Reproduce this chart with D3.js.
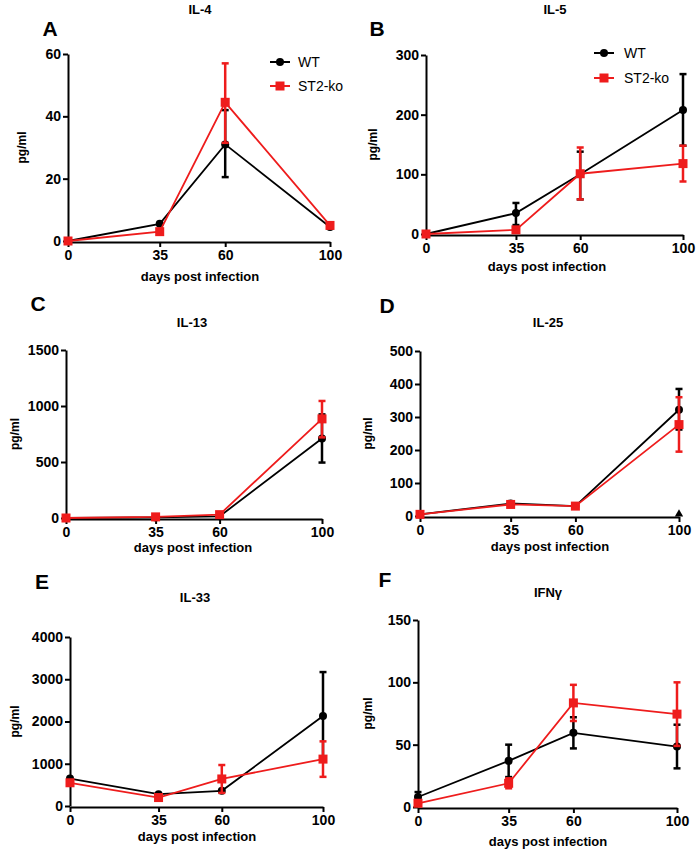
<!DOCTYPE html>
<html><head><meta charset="utf-8">
<script src="https://cdn.jsdelivr.net/npm/d3@7"></script>
<style>
body{margin:0;background:#fff;}
svg text{font-family:"Liberation Sans",Arial,sans-serif;font-weight:bold;}
</style></head>
<body><svg id="c" width="697" height="853"></svg>
<script>
const days = [0, 35, 60, 100];
const seriesNames = ["WT", "ST2-ko"];
const colors = ["#000000", "#ee1c1c"];

// values: [mean, errLow, errHigh]
const il4WT  = [[0,0,0],[5.5,5.5,5.5],[31,20.5,42],[4.5,4.5,4.5]];
const il4KO  = [[0,0,0],[3,3,3],[44.5,31.5,57],[5,5,5]];
const il5WT  = [[0,0,0],[35,15,52],[100,58,138],[208,148,268]];
const il5KO  = [[0,0,0],[7,4,10],[101,58,145],[118,88,148]];
const il13WT = [[0,0,0],[5,5,5],[15,15,15],[710,495,925]];
const il13KO = [[0,0,0],[10,10,10],[30,30,30],[885,720,1045]];
const il25WT = [[5,5,5],[38,38,38],[30,30,30],[322,262,385]];
const il25KO = [[5,5,5],[35,35,35],[30,30,30],[277,195,360]];
const il25Extra = [[100,0]];
const il33WT = [[650,650,650],[280,280,280],[360,360,360],[2130,1100,3170]];
const il33KO = [[550,550,550],[200,200,200],[640,310,970],[1110,690,1530]];
const ifnWT  = [[8,4,12],[37,24,50],[59.5,47,72],[48.5,31,66]];
const ifnKO  = [[3,1,5],[19,15,23],[83.5,69,98],[74.5,49,100]];

const titles = ["IL-4","IL-5","IL-13","IL-25","IL-33","IFNγ"];
const letters = ["A","B","C","D","E","F"];
const yMax = [60,300,1500,500,4000,150];
const yTicks = [[0,20,40,60],[0,100,200,300],[0,500,1000,1500],[0,100,200,300,400,500],[0,1000,2000,3000,4000],[0,50,100,150]];
const panelData = [[il4WT,il4KO],[il5WT,il5KO],[il13WT,il13KO],[il25WT,il25KO],[il33WT,il33KO],[ifnWT,ifnKO]];

// layout
const boxes = [
 {xL:68,xR:330,yT:54,yB:241, title:[200,14], letter:[50,36], ylab:22, xlab:[200,281], legend:true},
 {xL:426,xR:683,yT:55,yB:234, title:[555,14], letter:[377,36], ylab:373, xlab:[547,271], legend:true},
 {xL:66,xR:322,yT:350,yB:518, title:[192,327], letter:[38,311], ylab:15, xlab:[193,552]},
 {xL:420,xR:679,yT:351,yB:516, title:[548,327], letter:[387,313], ylab:368, xlab:[550,551]},
 {xL:70,xR:323,yT:637,yB:806, title:[195,602], letter:[42,589], ylab:15, xlab:[197,841]},
 {xL:418,xR:677,yT:620,yB:807, title:[548,597], letter:[385,587], ylab:368, xlab:[548,846]}
];

const svg = d3.select("#c");

boxes.forEach((b,i)=>{
  const g = svg.append("g");
  const x = d3.scaleLinear().domain([0,100]).range([b.xL,b.xR]);
  const y = d3.scaleLinear().domain([0,yMax[i]]).range([b.yB,b.yT]);

  const xa = g.append("g").attr("transform",`translate(0,${b.yB+1})`)
    .call(d3.axisBottom(x).tickValues(days).tickFormat(d3.format("d")).tickSize(5).tickSizeOuter(0).tickPadding(3));
  const ya = g.append("g").attr("transform",`translate(${b.xL},0)`)
    .call(d3.axisLeft(y).tickValues(yTicks[i]).tickFormat(d3.format("d")).tickSize(5).tickSizeOuter(0).tickPadding(2));
  [xa,ya].forEach(a=>{
    a.select(".domain").attr("stroke","#000").attr("stroke-width",2);
    a.selectAll(".tick line").attr("stroke","#000").attr("stroke-width",2);
    a.selectAll(".tick text").attr("font-size",14).attr("fill","#000");
  });

  g.append("text").attr("x",b.title[0]).attr("y",b.title[1]).attr("text-anchor","middle")
    .attr("font-size",13).text(titles[i]);
  g.append("text").attr("x",b.letter[0]).attr("y",b.letter[1]).attr("text-anchor","middle")
    .attr("font-size",21).text(letters[i]);
  g.append("text").attr("transform",`translate(${b.ylab},${(b.yT+b.yB)/2}) rotate(-90)`)
    .attr("text-anchor","middle").attr("dy","0.35em").attr("font-size",12).text("pg/ml");
  g.append("text").attr("x",b.xlab[0]).attr("y",b.xlab[1]).attr("text-anchor","middle")
    .attr("font-size",13).text("days post infection");

  const line = d3.line().x((d,k)=>x(days[k])).y(d=>y(d[0]));
  panelData[i].forEach((ser,s)=>{
    const col = colors[s];
    const sg = g.append("g");
    sg.append("path").datum(ser).attr("d",line).attr("fill","none").attr("stroke",col).attr("stroke-width",1.8);
    ser.forEach((d,k)=>{
      if(d[2]-d[1] > 0.001){
        const cx = x(days[k]);
        sg.append("line").attr("x1",cx).attr("x2",cx).attr("y1",y(d[1])).attr("y2",y(d[2]))
          .attr("stroke",col).attr("stroke-width",2.5);
        [d[1],d[2]].forEach(v=>{
          sg.append("line").attr("x1",cx-3.5).attr("x2",cx+3.5).attr("y1",y(v)).attr("y2",y(v))
            .attr("stroke",col).attr("stroke-width",2.5);
        });
      }
    });
    ser.forEach((d,k)=>{
      if(s===0) sg.append("circle").attr("cx",x(days[k])).attr("cy",y(d[0])).attr("r",4).attr("fill",col);
      else sg.append("rect").attr("x",x(days[k])-4.5).attr("y",y(d[0])-4.5).attr("width",9).attr("height",9).attr("fill",col);
    });
  });
  if(i===3){
    il25Extra.forEach(p=>{
      g.append("path").attr("d",d3.symbol(d3.symbolTriangle,30)())
        .attr("transform",`translate(${x(p[0])},${y(p[1])-2})`).attr("fill","#000");
    });
  }

  if(b.legend){
    const lx = i===0 ? 280 : 604, ly = i===0 ? 62 : 53, dy = i===0 ? 24 : 25;
    seriesNames.forEach((n,s)=>{
      const yy = ly + s*dy;
      g.append("line").attr("x1",lx-10).attr("x2",lx+10).attr("y1",yy).attr("y2",yy).attr("stroke",colors[s]).attr("stroke-width",2);
      if(s===0) g.append("circle").attr("cx",lx).attr("cy",yy).attr("r",4).attr("fill",colors[s]);
      else g.append("rect").attr("x",lx-4.5).attr("y",yy-4.5).attr("width",9).attr("height",9).attr("fill",colors[s]);
      g.append("text").attr("x",lx+(i===0?18:20)).attr("y",yy).attr("dy","0.35em").attr("font-size",14)
        .style("font-weight","normal").text(n);
    });
  }
});
</script></body></html>
